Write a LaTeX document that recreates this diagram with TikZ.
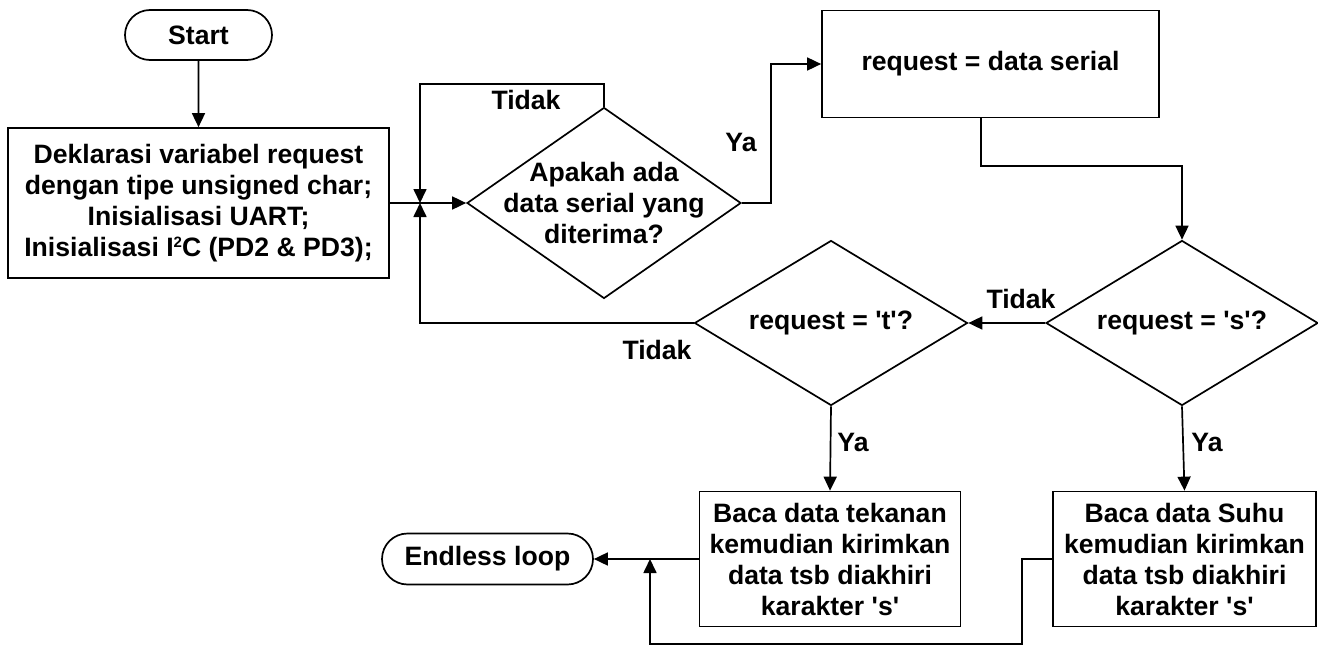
\documentclass[tikz,border=0pt]{standalone}
\usepackage{fontspec}
\setmainfont{Liberation Sans}
\usetikzlibrary{arrows.meta,shapes.geometric,shapes.misc}
\begin{document}
\begin{tikzpicture}[x=1pt,y=-1pt,line width=1.7pt,
  every node/.style={font=\fontsize{26.6}{31}\selectfont\bfseries,inner sep=0pt,align=center},
  term/.style={draw,rounded rectangle},
  proc/.style={draw,rectangle},
  dec/.style={draw,diamond},
  lbl/.style={},
  arr/.style={-{Triangle[length=14pt,width=13pt]}}]
\useasboundingbox (0,0) rectangle (1318,645);
% nodes
\node[term,minimum width=147pt,minimum height=50pt] (start) at (198.5,35) {Start};
\node[proc,minimum width=381pt,minimum height=150pt] (init) at (198.5,203)
  {Deklarasi variabel request\\dengan tipe unsigned char;\\Inisialisasi UART;\\Inisialisasi I\raisebox{9pt}{\fontsize{15}{15}\selectfont 2}C (PD2 \& PD3);};
\coordinate (j1) at (420,203);
\node[dec,minimum width=274pt,minimum height=191pt] (d1) at (604,203) {};
\node (d1t) at (d1) {Apakah ada\\data serial yang\\diterima?};
\node[proc,minimum width=337pt,minimum height=107pt] (req) at (990.5,64) {request = data serial};
\node[dec,minimum width=272pt,minimum height=165pt] (ds) at (1182,323) {};
\node (dst) at (ds) {request = \textquotesingle s\textquotesingle ?};
\node[dec,minimum width=273pt,minimum height=165pt] (dt) at (831,323) {};
\node (dtt) at (dt) {request = \textquotesingle t\textquotesingle ?};
\node[proc,minimum width=261pt,minimum height=135pt] (b3) at (830,559)
  {Baca data tekanan\\kemudian kirimkan\\data tsb diakhiri\\karakter \textquotesingle s\textquotesingle};
\node[proc,minimum width=263pt,minimum height=135pt] (b4) at (1184.5,559)
  {Baca data Suhu\\kemudian kirimkan\\data tsb diakhiri\\karakter \textquotesingle s\textquotesingle};
\node[term,minimum width=211pt,minimum height=51pt] (endn) at (487.5,559) {Endless loop};
\coordinate (j2) at (650,559);
% labels
\node[lbl] (l1) at (526,100) {Tidak};
\node[lbl] (l2) at (741,142) {Ya};
\node[lbl] (l3) at (1021,299) {Tidak};
\node[lbl] (l4) at (657,350) {Tidak};
\node[lbl] (l5) at (853,442) {Ya};
\node[lbl] (l6) at (1207,442) {Ya};
% connectors
\draw[arr] (start) -- (init);
\draw[arr] (init.east) -- (d1.west);
\draw[arr] (d1.north) -- ++(0,-23) -| (j1);
\draw[arr] (d1.east) -- ++(29,0) |- (req.west);
\draw[arr] ([xshift=-9.5pt]req.south) -- ++(0,47.5) -| (ds.north);
\draw[arr] (ds.west) -- (dt.east);
\draw[arr] (dt.west) -| (j1);
\draw[arr] (dt.south) -- (b3.north);
\draw[arr] (ds.south) -- (b4.north);
\draw[arr] (b3.west) -- (endn.east);
\draw[arr] (b4.west) -- ++(-30,0) -- ++(0,85) -| (j2);
\end{tikzpicture}
\end{document}
